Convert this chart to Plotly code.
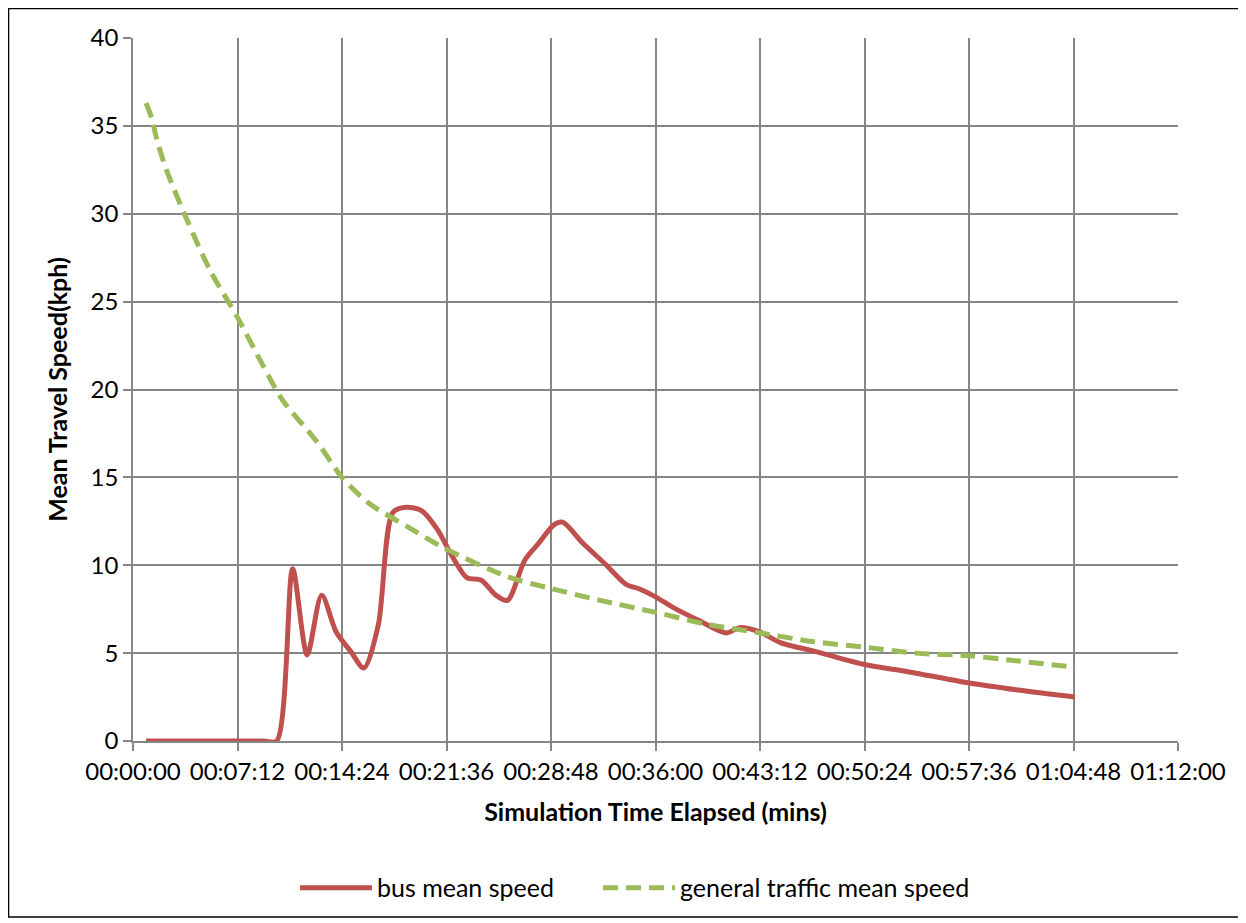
import plotly.graph_objects as go

# time in minutes since start
bus_t = [0.9, 5.0, 9.0, 9.9, 11.0, 12.0, 13.0, 14.0, 15.0, 15.9, 16.9, 17.9, 18.8, 19.9,
         21.0, 22.0, 23.0, 24.0, 25.0, 25.8, 27.0, 28.0, 29.0, 29.6, 31.0, 32.5, 34.0,
         34.9, 36.0, 37.2, 39.0, 40.9, 41.8, 43.2, 44.6, 47.0, 50.4, 53.0, 57.6, 61.0, 64.9]
bus_v = [0.0, 0.0, 0.0, 0.0, 9.8, 4.9, 8.3, 6.2, 5.1, 4.15, 6.6, 13.0, 13.3, 13.1,
         12.0, 10.5, 9.3, 9.15, 8.3, 8.0, 10.3, 11.3, 12.3, 12.45, 11.25, 10.1, 8.9,
         8.65, 8.2, 7.6, 6.85, 6.15, 6.45, 6.2, 5.6, 5.1, 4.35, 4.0, 3.3, 2.9, 2.5]

gen_t = [0.9, 1.3, 1.65, 2.3, 3.8, 5.3, 7.2, 9.0, 10.3, 12.7, 14.4, 16.3, 18.9, 21.4,
         25.8, 28.7, 32.2, 36.1, 39.5, 43.2, 46.9, 50.3, 54.0, 57.6, 61.0, 64.9]
gen_v = [36.3, 35.4, 34.2, 32.5, 29.5, 26.8, 24.1, 21.3, 19.4, 17.0, 15.0, 13.5, 12.2, 11.0,
         9.35, 8.7, 8.0, 7.3, 6.65, 6.15, 5.65, 5.35, 5.0, 4.85, 4.55, 4.2]

tick_vals = [0, 7.2, 14.4, 21.6, 28.8, 36.0, 43.2, 50.4, 57.6, 64.8, 72.0]
tick_text = ["00:00:00", "00:07:12", "00:14:24", "00:21:36", "00:28:48", "00:36:00",
             "00:43:12", "00:50:24", "00:57:36", "01:04:48", "01:12:00"]
y_ticks = [0, 5, 10, 15, 20, 25, 30, 35, 40]

FONT = "Lato"
GRID = "#868686"

fig = go.Figure()
fig.add_trace(go.Scatter(
    x=bus_t, y=bus_v, mode="lines", name="bus mean speed", legend="legend",
    line=dict(color="#C0504D", width=5, shape="spline", smoothing=0.8)))
fig.add_trace(go.Scatter(
    x=gen_t, y=gen_v, mode="lines", name="general traffic mean speed", legend="legend2",
    line=dict(color="#9BBB59", width=5, shape="spline", smoothing=0.8, dash="15px,8px")))

leg_common = dict(orientation="h", xanchor="left", y=-0.209, yanchor="middle",
                  font=dict(family=FONT, size=25), itemwidth=72, bgcolor="rgba(0,0,0,0)")

fig.update_layout(
    width=1246, height=923,
    margin=dict(l=125, r=76, t=30, b=190),
    paper_bgcolor="white", plot_bgcolor="white",
    font=dict(family=FONT, size=24, color="black"),
    showlegend=True,
    legend=dict(x=0.155, **leg_common),
    legend2=dict(x=0.445, **leg_common),
    shapes=[dict(type="rect", xref="paper", yref="paper",
                 x0=-0.1191, x1=1.0593, y0=-0.2504, y1=1.042,
                 line=dict(color="black", width=1.5), fillcolor="rgba(0,0,0,0)")],
)
fig.update_xaxes(
    range=[0, 72], tickvals=tick_vals, ticktext=tick_text,
    showgrid=True, gridcolor=GRID, gridwidth=1.6,
    showline=True, linecolor=GRID, linewidth=1.6,
    ticks="outside", ticklen=8, tickcolor=GRID, tickwidth=1.6,
    zeroline=False, tickfont=dict(family=FONT, size=24),
    title=dict(text="<b>Simulation Time Elapsed (mins)</b>", font=dict(family=FONT, size=25), standoff=20))
fig.update_yaxes(
    range=[0, 40], tickvals=y_ticks,
    showgrid=True, gridcolor=GRID, gridwidth=1.6,
    showline=True, linecolor=GRID, linewidth=1.6,
    ticks="outside", ticklen=8, tickcolor=GRID, tickwidth=1.6,
    zeroline=False, tickfont=dict(family=FONT, size=24),
    title=dict(text="<b>Mean Travel Speed(kph)</b>", font=dict(family=FONT, size=25), standoff=16))

fig.write_html("out.html")
